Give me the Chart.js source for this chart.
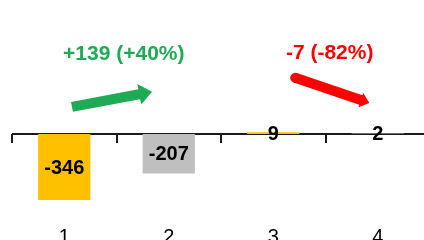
<!DOCTYPE html>
<html lang="en">
<head>
    <meta charset="UTF-8">
    <title>Change chart</title>
    <script src="https://cdn.jsdelivr.net/npm/chart.js"></script>
    <style>
        html, body { margin: 0; padding: 0; background: #fff; overflow: hidden; }
        #wrap { width: 430px; height: 240px; }
    </style>
</head>
<body>
    <div id="wrap"><canvas id="chart" width="430" height="240"></canvas></div>
    <script>
        // data
        var categories = ['1', '2', '3', '4'];
        var values = [-346, -207, 9, 2];
        var barColors = ['#FFC000', '#BFBFBF', '#FFC000', '#BFBFBF'];
        var yMin = -450;
        var yMax = 700;

        // change notes (text + arrow), placed in axis units (category index, value)
        var noteTexts = ['+139 (+40%)', '-7 (-82%)'];
        var noteColors = ['#1FAA55', '#FF0000'];
        var notes = [
            { textAt: [0.57, 416], from: [0.074, 141], to: [0.84, 220], shaft: 10, headW: 21, headL: 13, round: false },
            { textAt: [2.54, 423], from: [2.21, 293], to: [2.92, 162], shaft: 10, headW: 15, headL: 9, round: true }
        ];

        // zero line with tick marks between categories
        var zeroAxis = {
            id: 'zeroAxis',
            beforeDatasetsDraw: function (chart) {
                var ctx = chart.ctx, x = chart.scales.x, y = chart.scales.y;
                var y0 = y.getPixelForValue(0);
                ctx.save();
                ctx.strokeStyle = '#1a1a1a';
                ctx.lineWidth = 2;
                ctx.beginPath();
                ctx.moveTo(x.getPixelForValue(-0.5), y0);
                ctx.lineTo(x.getPixelForValue(categories.length - 0.5), y0);
                for (var i = 0; i <= categories.length; i++) {
                    var px = Math.round(x.getPixelForValue(i - 0.5));
                    ctx.moveTo(px, y0);
                    ctx.lineTo(px, y0 + 9);
                }
                ctx.stroke();
                ctx.restore();
            }
        };

        function drawArrow(ctx, x1, y1, x2, y2, n, color) {
            var ang = Math.atan2(y2 - y1, x2 - x1);
            var len = Math.hypot(x2 - x1, y2 - y1);
            ctx.save();
            ctx.translate(x1, y1);
            ctx.rotate(ang);
            ctx.fillStyle = color;
            ctx.beginPath();
            ctx.moveTo(0, -n.shaft / 2);
            ctx.lineTo(len - n.headL, -n.shaft / 2);
            ctx.lineTo(len - n.headL, -n.headW / 2);
            ctx.lineTo(len, 0);
            ctx.lineTo(len - n.headL, n.headW / 2);
            ctx.lineTo(len - n.headL, n.shaft / 2);
            ctx.lineTo(0, n.shaft / 2);
            ctx.closePath();
            ctx.fill();
            if (n.round) {
                ctx.beginPath();
                ctx.arc(0, 0, n.shaft / 2, 0, Math.PI * 2);
                ctx.fill();
            }
            ctx.restore();
        }

        var labelsAndNotes = {
            id: 'labelsAndNotes',
            afterDatasetsDraw: function (chart) {
                var ctx = chart.ctx, x = chart.scales.x, y = chart.scales.y;
                ctx.save();
                ctx.textAlign = 'center';
                ctx.textBaseline = 'middle';
                ctx.font = 'bold 20px "Liberation Sans", Arial, sans-serif';
                ctx.fillStyle = '#000';
                chart.getDatasetMeta(0).data.forEach(function (bar, i) {
                    ctx.fillText(String(values[i]), bar.x, (bar.y + bar.base) / 2 + 1);
                });
                ctx.font = 'bold 21px "Liberation Sans", Arial, sans-serif';
                notes.forEach(function (n, i) {
                    ctx.fillStyle = noteColors[i];
                    ctx.fillText(noteTexts[i], x.getPixelForValue(n.textAt[0]), y.getPixelForValue(n.textAt[1]));
                    drawArrow(ctx,
                        x.getPixelForValue(n.from[0]), y.getPixelForValue(n.from[1]),
                        x.getPixelForValue(n.to[0]), y.getPixelForValue(n.to[1]),
                        n, noteColors[i]);
                });
                ctx.restore();
            }
        };

        new Chart(document.getElementById('chart').getContext('2d'), {
            type: 'bar',
            data: {
                labels: categories,
                datasets: [{
                    data: values,
                    backgroundColor: barColors,
                    borderWidth: 0,
                    barPercentage: 0.5,
                    categoryPercentage: 1
                }]
            },
            options: {
                responsive: false,
                animation: false,
                layout: { padding: { left: 12, right: 0, top: 0, bottom: 0 } },
                plugins: { legend: { display: false }, tooltip: { enabled: false } },
                scales: {
                    x: {
                        afterFit: function (axis) { axis.height = 20; },
                        grid: { display: false, drawTicks: false },
                        border: { display: false },
                        ticks: {
                            color: '#000',
                            padding: 5,
                            font: { family: '"Liberation Sans", Arial, sans-serif', size: 20 }
                        }
                    },
                    y: { display: false, min: yMin, max: yMax }
                }
            },
            plugins: [zeroAxis, labelsAndNotes]
        });
    </script>
</body>
</html>
